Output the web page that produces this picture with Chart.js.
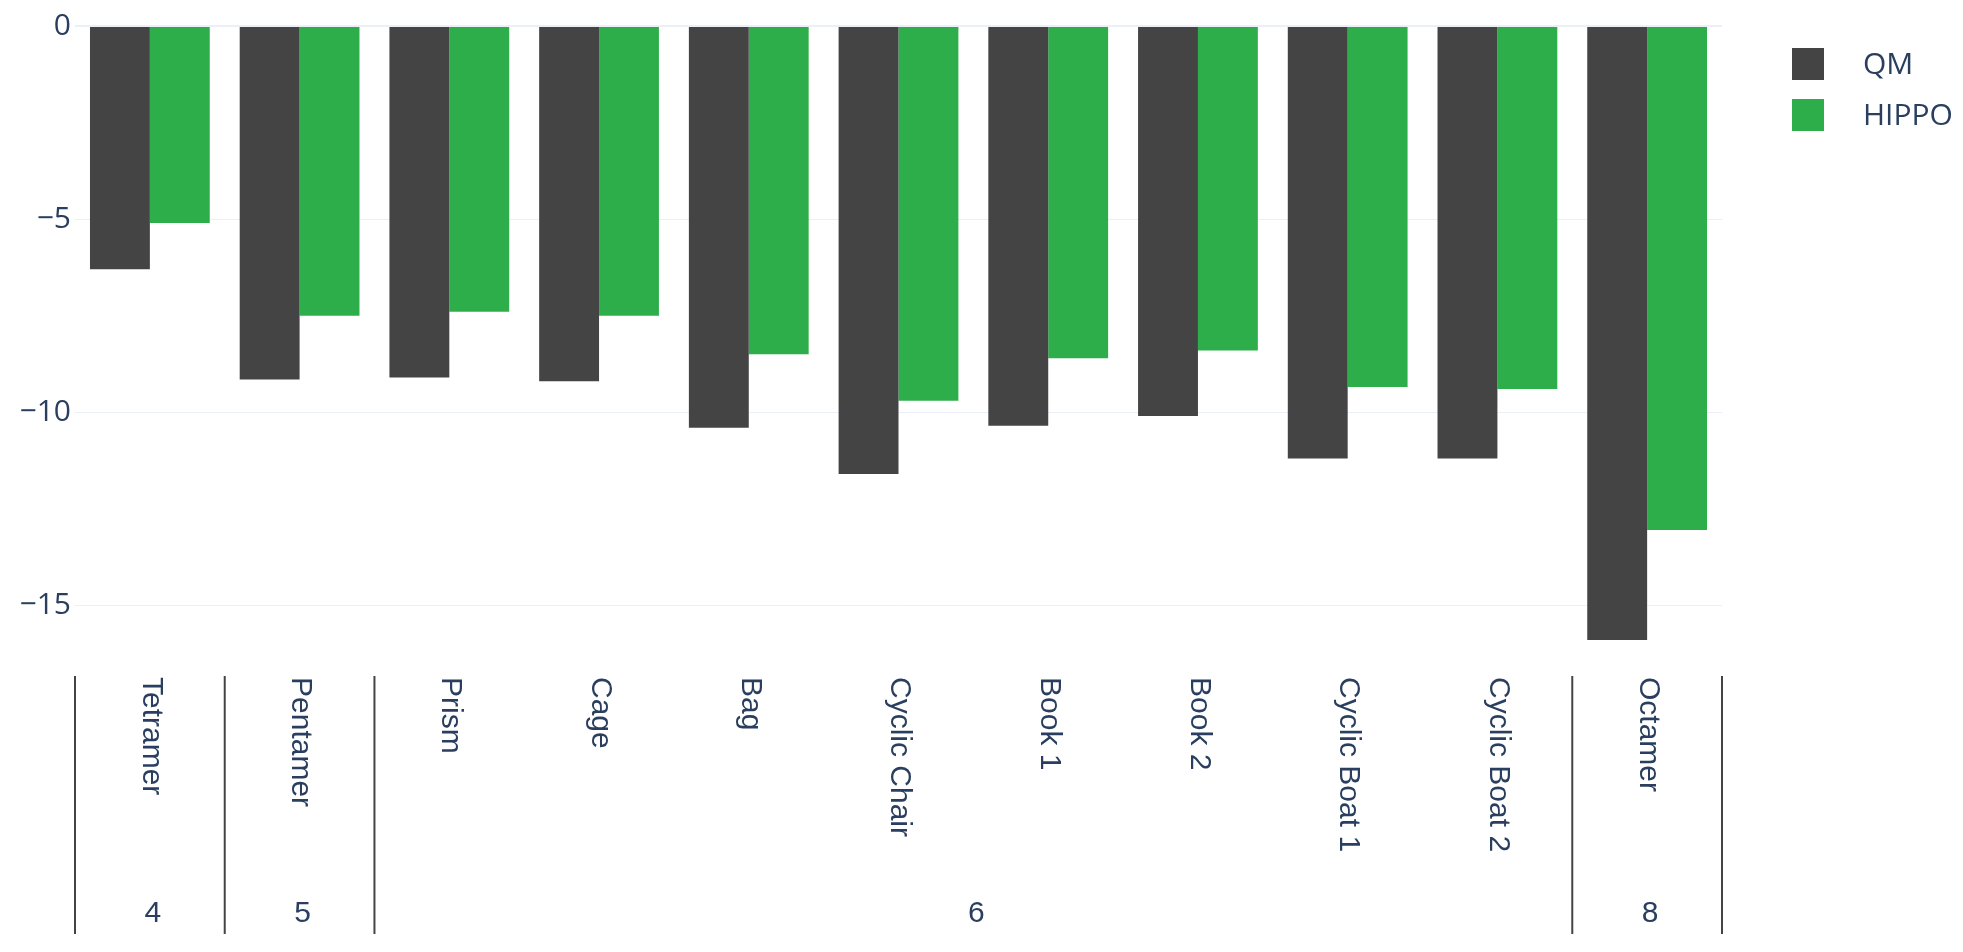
<!DOCTYPE html>
<html>
<head>
<meta charset="utf-8">
<script src="https://cdn.jsdelivr.net/npm/chart.js@4.4.1/dist/chart.umd.min.js"></script>
<style>
  html, body { margin: 0; padding: 0; background: #fff; }
  #wrap { width: 1963px; height: 952px; position: relative; }
</style>
</head>
<body>
<div id="wrap"><canvas id="chart"></canvas></div>
<script>
// ------------------ Data ------------------
const categories = ["Tetramer", "Pentamer", "Prism", "Cage", "Bag", "Cyclic Chair",
  "Book 1", "Book 2", "Cyclic Boat 1", "Cyclic Boat 2", "Octamer"];
const groupLabels = ["4", "5", "6", "8"];
const groupSizes = [1, 1, 8, 1];
const qmValues = [-6.3, -9.15, -9.1, -9.2, -10.4, -11.6, -10.35, -10.1, -11.2, -11.2, -15.9];
const hippoValues = [-5.1, -7.5, -7.4, -7.5, -8.5, -9.7, -8.6, -8.4, -9.35, -9.4, -13.05];
const yTicks = [0, -5, -10, -15];

const textColor = "#2a3f5f";
const qmColor = "#444444";
const hippoColor = "#2eae4a";

// ------------------ Multi-level x labels + legend ------------------
const axisLabels = {
  id: "axisLabels",
  afterDraw(chart) {
    const ctx = chart.ctx;
    const x = chart.scales.x;
    const area = chart.chartArea;
    const step = x.getPixelForValue(1) - x.getPixelForValue(0);
    ctx.save();
    ctx.fillStyle = textColor;

    // category names, rotated to read top-down
    ctx.font = "30px 'Liberation Sans', Arial, sans-serif";
    ctx.textAlign = "left";
    ctx.textBaseline = "middle";
    categories.forEach((c, i) => {
      ctx.save();
      ctx.translate(x.getPixelForValue(i) + 1, area.bottom + 6);
      ctx.rotate(Math.PI / 2);
      ctx.fillText(c, 0, 0);
      ctx.restore();
    });

    // group dividers and group names
    ctx.strokeStyle = "#444444";
    ctx.lineWidth = 2;
    ctx.textAlign = "center";
    let start = 0;
    const lineX = i => x.getPixelForValue(i) - step / 2;
    const drawLine = px => {
      ctx.beginPath();
      ctx.moveTo(px, area.bottom + 5);
      ctx.lineTo(px, area.bottom + 263);
      ctx.stroke();
    };
    groupSizes.forEach((n, g) => {
      drawLine(lineX(start));
      const mid = (x.getPixelForValue(start) + x.getPixelForValue(start + n - 1)) / 2;
      ctx.fillText(groupLabels[g], mid + 3, area.bottom + 243);
      start += n;
    });
    drawLine(lineX(start));

    // legend
    ctx.font = "30px 'Open Sans', sans-serif";
    ctx.textAlign = "left";
    chart.data.datasets.forEach((ds, i) => {
      const lx = area.right + 70;
      const ly = 48 + i * 51;
      ctx.fillStyle = ds.backgroundColor;
      ctx.fillRect(lx, ly, 32, 32);
      ctx.fillStyle = textColor;
      ctx.fillText(ds.label, lx + 71, ly + 17);
    });
    ctx.restore();
  }
};

// ------------------ Chart ------------------
new Chart(document.getElementById("chart"), {
  type: "bar",
  data: {
    labels: categories,
    datasets: [
      { label: "QM", data: qmValues, backgroundColor: qmColor },
      { label: "HIPPO", data: hippoValues, backgroundColor: hippoColor }
    ]
  },
  options: {
    responsive: true,
    maintainAspectRatio: false,
    animation: false,
    categoryPercentage: 0.8,
    barPercentage: 1.0,
    layout: { padding: { top: 26, right: 241, left: 0, bottom: 0 } },
    plugins: { legend: { display: false }, tooltip: { enabled: false } },
    scales: {
      x: {
        grid: { display: false },
        border: { display: false },
        ticks: { display: false },
        afterFit: s => { s.height = 281; }
      },
      y: {
        min: -16.7,
        max: 0,
        afterFit: s => { s.width = 75; },
        afterBuildTicks: s => { s.ticks = yTicks.map(v => ({ value: v })); },
        border: { display: false },
        grid: {
          color: "#ebf0f8",
          lineWidth: c => (c.tick && c.tick.value === 0 ? 2 : 1),
          drawTicks: false
        },
        ticks: {
          padding: 4,
          color: textColor,
          font: { family: "'Open Sans', sans-serif", size: 30 },
          callback: v => (v < 0 ? "\u2212" + Math.abs(v) : String(v))
        }
      }
    }
  },
  plugins: [axisLabels]
});
</script>
</body>
</html>
